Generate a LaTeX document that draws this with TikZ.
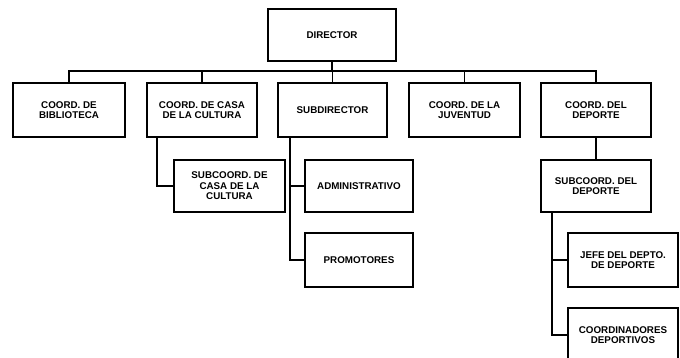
\documentclass[tikz,border=0pt]{standalone}
\usepackage{fontspec}
\setmainfont{Liberation Sans}
\begin{document}
\begin{tikzpicture}[x=1pt,y=-1pt,
  box/.style={draw,line width=1.6pt,rectangle,align=center,inner sep=1pt,
    font=\fontsize{9.8}{10.5}\selectfont\bfseries},
  link/.style={line width=1.6pt}]
\useasboundingbox (0,0) rectangle (680,358);
\clip (0,0) rectangle (680,358);
\node[box,minimum width=128,minimum height=52] (dir) at (332,35) {DIRECTOR};
\node[box,minimum width=112,minimum height=54] (b1) at (69,110) {COORD. DE\\BIBLIOTECA};
\node[box,minimum width=110,minimum height=54] (b2) at (202,110) {COORD. DE CASA\\DE LA CULTURA};
\node[box,minimum width=109,minimum height=54] (b3) at (332.5,110) {SUBDIRECTOR};
\node[box,minimum width=111,minimum height=54] (b4) at (464.5,110) {COORD. DE LA\\JUVENTUD};
\node[box,minimum width=110,minimum height=54] (b5) at (596,110) {COORD. DEL\\DEPORTE};
\node[box,minimum width=111,minimum height=52] (s2) at (229.5,186) {SUBCOORD. DE\\CASA DE LA\\CULTURA};
\node[box,minimum width=108,minimum height=52] (adm) at (359,186) {ADMINISTRATIVO};
\node[box,minimum width=108,minimum height=54] (pro) at (359,260) {PROMOTORES};
\node[box,minimum width=110,minimum height=52] (s5) at (596,186) {SUBCOORD. DEL\\DEPORTE};
\node[box,minimum width=110,minimum height=54] (jefe) at (623,260) {JEFE DEL DEPTO.\\DE DEPORTE};
\node[box,minimum width=110,minimum height=54] (coo) at (623,335) {COORDINADORES\\DEPORTIVOS};
\coordinate (bus) at (332,71);
\draw[link] (dir.south) -- (dir.south |- bus);
\draw[link] (b1.north) -- (b1.north |- bus) -- (b5.north |- bus) -- (b5.north);
\draw[link] (b2.north) -- (b2.north |- bus);
\draw[link] (b3.north) -- (b3.north |- bus);
\draw[link] (b4.north) -- (b4.north |- bus);
\draw[link] ([xshift=-45pt]b2.south) |- (s2.west);
\draw[link] ([xshift=-42.5pt]b3.south) |- (pro.west);
\draw[link] ([xshift=-42.5pt]b3.south |- adm.west) -- (adm.west);
\draw[link] (b5.south) -- (s5.north);
\draw[link] ([xshift=-44pt]s5.south) |- (coo.west);
\draw[link] ([xshift=-44pt]s5.south |- jefe.west) -- (jefe.west);
\end{tikzpicture}
\end{document}
